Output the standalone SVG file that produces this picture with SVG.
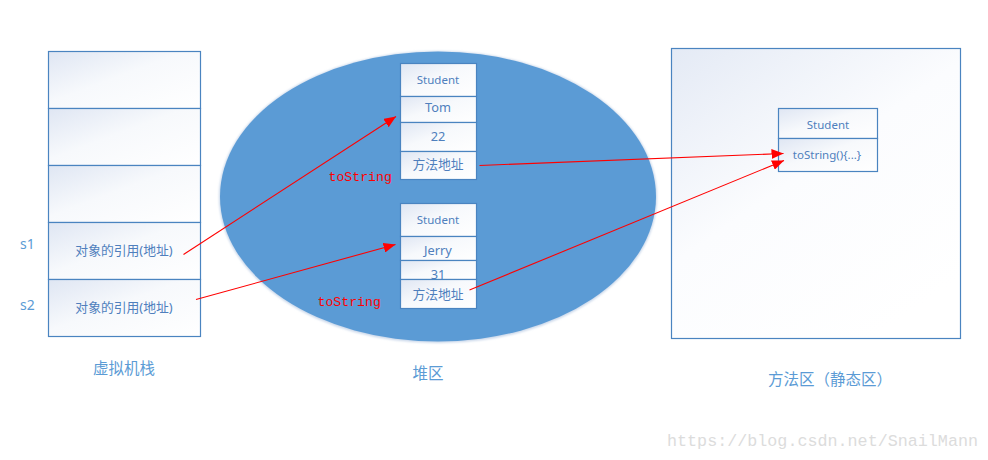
<svg xmlns="http://www.w3.org/2000/svg" width="988" height="460" viewBox="0 0 988 460">
<defs>
<linearGradient id="gBox" x1="0" y1="0" x2="1" y2="1">
<stop offset="0" stop-color="#dfe6f3"/>
<stop offset="0.45" stop-color="#f7f9fc"/>
<stop offset="1" stop-color="#ffffff"/>
</linearGradient>
<linearGradient id="gBig" x1="0" y1="0" x2="0.7" y2="1">
<stop offset="0" stop-color="#e4eaf5"/>
<stop offset="0.5" stop-color="#fbfcfe"/>
<stop offset="1" stop-color="#ffffff"/>
</linearGradient>
<marker id="arr" markerUnits="userSpaceOnUse" markerWidth="14" markerHeight="10" refX="12" refY="5" orient="auto">
<path d="M0,0 L12,5 L0,10 Z" fill="#ff0000"/>
</marker>
<filter id="soft" x="-5%" y="-5%" width="110%" height="110%">
<feGaussianBlur stdDeviation="1.2"/>
</filter>
</defs>
<style>
.cell{fill:url(#gBox);stroke:#4a84c0;stroke-width:1.2}
.t{font-family:"Noto Sans","Noto Sans CJK SC",sans-serif;fill:#4f7fbd;text-anchor:middle}
.s{font-size:11.5px}
.c{font-size:12.8px}
.h{font-family:"Noto Sans CJK SC","Noto Sans",sans-serif;fill:#5b9bd5;font-size:15.5px;text-anchor:middle}
.lbl{font-family:"Noto Sans",sans-serif;fill:#5b9bd5;font-size:14px}
.red{font-family:"Liberation Mono",monospace;fill:#ff0000;font-size:13.2px}
.conn{stroke:#ff0000;stroke-width:1.1;fill:none;marker-end:url(#arr)}
</style>
<rect width="988" height="460" fill="#ffffff"/>

<g id="stack">
<rect class="cell" x="48.5" y="51.5" width="152" height="57"/>
<rect class="cell" x="48.5" y="108.5" width="152" height="57"/>
<rect class="cell" x="48.5" y="165.5" width="152" height="57"/>
<rect class="cell" x="48.5" y="222.5" width="152" height="57"/>
<rect class="cell" x="48.5" y="279.5" width="152" height="57"/>
<text class="t c" x="124" y="255">对象的引用(地址)</text>
<text class="t c" x="124" y="312">对象的引用(地址)</text>
<text class="lbl" x="20" y="249">s1</text>
<text class="lbl" x="20" y="310">s2</text>
<text class="h" x="124" y="374">虚拟机栈</text>
</g>

<g id="heap">
<ellipse cx="438" cy="197" rx="219" ry="146" fill="#c9d7ea" filter="url(#soft)"/>
<ellipse cx="438" cy="196.5" rx="218" ry="145" fill="#5b9bd5"/>
<text class="h" x="428" y="379">堆区</text>
</g>

<g id="tom">
<rect class="cell" x="400.5" y="63.5" width="76" height="33"/>
<rect class="cell" x="400.5" y="96.5" width="76" height="26"/>
<rect class="cell" x="400.5" y="122.5" width="76" height="29"/>
<rect class="cell" x="400.5" y="151.5" width="76" height="28"/>
<text class="t s" x="438" y="84">Student</text>
<text class="t c" x="438" y="112">Tom</text>
<text class="t c" x="438" y="141">22</text>
<text class="t c" x="438" y="169">方法地址</text>
</g>

<g id="jerry">
<rect class="cell" x="400.5" y="203.5" width="76" height="33"/>
<rect class="cell" x="400.5" y="236.5" width="76" height="24"/>
<rect class="cell" x="400.5" y="260.5" width="76" height="19"/>
<rect class="cell" x="400.5" y="279.5" width="76" height="29"/>
<text class="t s" x="438" y="224">Student</text>
<text class="t c" x="438" y="255">Jerry</text>
<text class="t c" x="438" y="278.5">31</text>
<text class="t c" x="438" y="299">方法地址</text>
</g>

<g id="method-area">
<rect x="671.5" y="48.5" width="289" height="290" fill="url(#gBig)" stroke="#4a84c0" stroke-width="1.2"/>
<text class="h" x="830" y="385">方法区（静态区）</text>
</g>

<g id="student-class">
<rect class="cell" x="778.5" y="108.5" width="99" height="30"/>
<rect class="cell" x="778.5" y="138.5" width="99" height="33"/>
<text class="t s" x="828" y="129">Student</text>
<text class="t s" x="827" y="158.5">toString(){...}</text>
</g>

<g id="connectors">
<line class="conn" x1="183.5" y1="254.5" x2="396" y2="116.5"/>
<line class="conn" x1="196" y1="299.5" x2="395.5" y2="244.5"/>
<line class="conn" x1="479.5" y1="165.5" x2="783.5" y2="153.5"/>
<line class="conn" x1="469.5" y1="290" x2="784" y2="160.5"/>
<text class="red" x="328.5" y="181">toString</text>
<text class="red" x="317.5" y="306">toString</text>
</g>

<text x="667" y="446" font-family="Liberation Mono,monospace" font-size="16.7" fill="#dcdcdc" textLength="311" lengthAdjust="spacingAndGlyphs">https://blog.csdn.net/SnailMann</text>
</svg>
